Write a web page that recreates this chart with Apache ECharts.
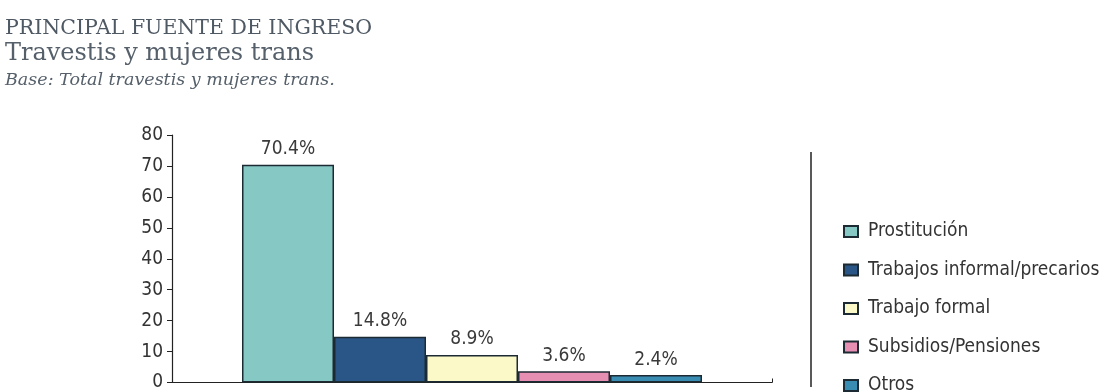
<!DOCTYPE html>
<html lang="es">
<head>
    <meta charset="UTF-8">
    <title>Principal fuente de ingreso</title>
    <style>
        html, body { margin: 0; padding: 0; background: #ffffff; }
        #main { width: 1106px; height: 392px; }
    </style>
</head>
<body>
<div id="main"></div>

<script src="https://cdn.jsdelivr.net/npm/echarts@6/dist/echarts.min.js"></script>
<script>
    // datos
    const categorias = ['Prostitución', 'Trabajos informal/precarios', 'Trabajo formal', 'Subsidios/Pensiones', 'Otros'];
    const valores = [70.4, 14.8, 8.9, 3.6, 2.4];
    const colores = ['#86c9c4', '#2a5687', '#fcf9c9', '#e68fb3', '#3a8db2'];
    const yTicks = [0, 10, 20, 30, 40, 50, 60, 70, 80];

    const condensada = "'Liberation Sans Narrow', 'DejaVu Sans Condensed', sans-serif";
    const serif = "'DejaVu Serif', 'Liberation Serif', serif";

    let series = categorias.map((nombre, i) => ({
        name: nombre,
        type: 'bar',
        data: [valores[i]],
        barWidth: 92,
        barGap: '0%',
        itemStyle: { color: colores[i], borderColor: '#1c2a33', borderWidth: 1.5 },
        label: {
            show: true,
            position: 'top',
            distance: 6,
            formatter: p => p.value.toFixed(1) + '%',
            fontFamily: condensada,
            fontSize: 19,
            color: '#3a3a3a'
        }
    }));

    let chart = echarts.init(document.getElementById('main'));
    chart.setOption({
        backgroundColor: '#ffffff',
        animation: false,
        title: [
            { text: 'PRINCIPAL FUENTE DE INGRESO', left: 0, top: 13,
              textStyle: { fontFamily: serif, fontSize: 20.5, fontWeight: 'normal', color: '#4f5964' } },
            { text: 'Travestis y mujeres trans', left: 0, top: 37,
              textStyle: { fontFamily: serif, fontSize: 24, fontWeight: 'normal', color: '#56606b' } },
            { text: 'Base: Total travestis y mujeres trans.', left: 0, top: 66,
              textStyle: { fontFamily: serif, fontSize: 17.5, fontStyle: 'italic', fontWeight: 'normal', color: '#56606b' } }
        ],
        grid: { left: 172, right: 334, top: 135, bottom: 6 },
        legend: {
            orient: 'vertical',
            left: 843,
            top: 222,
            height: 200,
            padding: 0,
            icon: 'rect',
            itemWidth: 14,
            itemHeight: 11,
            itemGap: 19.5,
            data: categorias,
            textStyle: { fontFamily: condensada, fontSize: 19, color: '#333', lineHeight: 18, padding: [0, 0, 0, 5] }
        },
        xAxis: {
            type: 'category',
            data: [''],
            axisLine: { lineStyle: { color: '#222', width: 1.2 } },
            axisTick: { show: true, inside: true, length: 4, lineStyle: { color: '#222' } },
            axisLabel: { show: false }
        },
        yAxis: {
            type: 'value',
            min: yTicks[0],
            max: yTicks[yTicks.length - 1],
            interval: 10,
            axisLine: { show: true, lineStyle: { color: '#222', width: 1.2 } },
            axisTick: { show: true, length: 5, lineStyle: { color: '#222' } },
            axisLabel: { fontFamily: condensada, fontSize: 19, color: '#333', margin: 9 },
            splitLine: { show: false }
        },
        graphic: [
            { type: 'line', shape: { x1: 811, y1: 152, x2: 811, y2: 387 },
              style: { stroke: '#222', lineWidth: 1.5 } }
        ],
        series: series
    });
</script>
</body>
</html>
